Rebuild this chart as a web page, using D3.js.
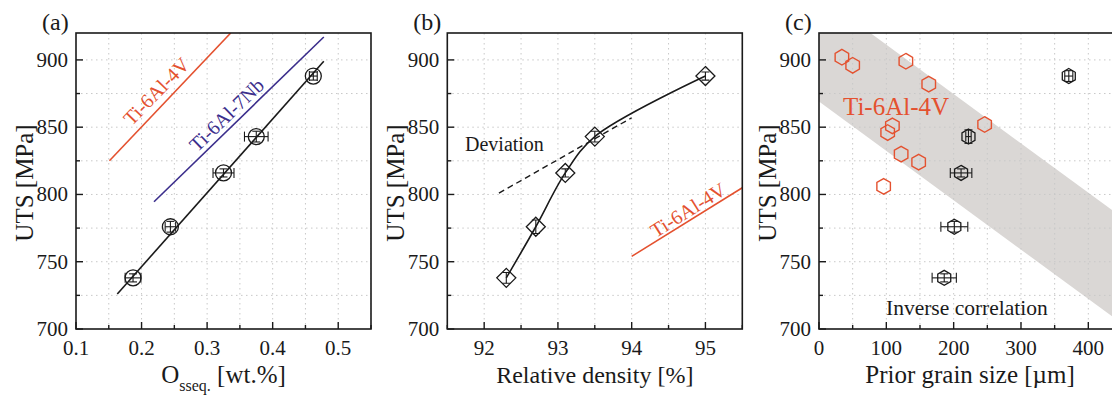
<!DOCTYPE html>
<html><head><meta charset="utf-8">
<script src="https://cdn.jsdelivr.net/npm/d3@7"></script>
<style>body{margin:0;background:#fff}svg{display:block}</style>
</head><body><svg id="c" width="1112" height="396" font-family="'Liberation Serif','Times New Roman',serif"></svg>
<script>
// ---------- data ----------
const utsValues = [738, 776, 816, 843, 888];
const utsErr = [3, 4, 3, 4, 3];
// (a) oxygen equivalent
const oxyValues = [0.187, 0.244, 0.325, 0.375, 0.462];
const oxyErr = [0.012, 0.008, 0.016, 0.018, 0.006];
const oxyFitX = [0.163, 0.478];
const oxyFitY = [726, 899];
const ti64LineX = [0.151, 0.336];
const ti64LineY = [825, 920];
const ti67LineX = [0.219, 0.478];
const ti67LineY = [794.6, 917];
const oxyTicks = [0.1, 0.2, 0.3, 0.4, 0.5];
const oxyTickLabels = ["0.1", "0.2", "0.3", "0.4", "0.5"];
// (b) relative density
const densValues = [92.3, 92.7, 93.1, 93.5, 95.0];
const densErrY = [4, 5, 3, 4, 3];
const devLineX = [92.2, 94.0];
const devLineY = [801, 857];
const densTi64X = [94.0, 95.5];
const densTi64Y = [754, 805];
const densTicks = [92, 93, 94, 95];
const densTickLabels = ["92", "93", "94", "95"];
// (c) prior grain size
const grainValues = [186, 201, 211, 222, 371];
const grainErr = [18, 20, 16, 4, 6];
const grainErrY = [3, 4, 3, 5, 4];
const litGrain = [34, 50, 129, 163, 109, 102, 246, 122, 148, 96];
const litUTS = [902, 896, 899, 882, 851, 846, 852, 830, 824, 806];
const bandX = [0, 450];
const bandUpper = [948, 783];
const bandLower = [869, 704];
const grainTicks = [0, 100, 200, 300, 400];
const grainTickLabels = ["0", "100", "200", "300", "400"];
const utsTicks = [700, 750, 800, 850, 900];
const utsTickLabels = ["700", "750", "800", "850", "900"];

// ---------- drawing ----------
const RED = "#e4512f", PURPLE = "#3b2e8c", INK = "#1a1a1a";
const svg = d3.select("#c");
const pTop = 33, pBottom = 329;

function panel(o) {
  const g = svg.append("g");
  const x = d3.scaleLinear().domain(o.xDomain).range([o.left, o.right]);
  const y = d3.scaleLinear().domain([700, 920]).range([pBottom, pTop]);
  const clipId = "clip" + o.id;
  svg.append("clipPath").attr("id", clipId).append("rect")
    .attr("x", o.left).attr("y", pTop).attr("width", o.right - o.left).attr("height", pBottom - pTop);
  const plot = g.append("g").attr("clip-path", `url(#${clipId})`);
  const back = plot.append("g");
  const xs = d3.range(o.xDomain[0], o.xDomain[1] + 1e-9, o.minorStep);
  const ys = d3.range(700, 921, 25);
  const grid = plot.append("g").attr("stroke", "#c8c8c8").attr("stroke-width", 1).attr("stroke-dasharray", "1.5,3.5");
  grid.selectAll(".gx").data(xs.slice(1)).join("line")
    .attr("x1", d => x(d)).attr("x2", d => x(d)).attr("y1", pTop).attr("y2", pBottom);
  grid.selectAll(".gy").data(ys.slice(1)).join("line")
    .attr("y1", d => y(d)).attr("y2", d => y(d)).attr("x1", o.left).attr("x2", o.right);
  const ax = g.append("g").attr("stroke", INK).attr("stroke-width", 1.4);
  ax.selectAll(".tx").data(xs).join("line")
    .attr("x1", d => x(d)).attr("x2", d => x(d)).attr("y1", pBottom)
    .attr("y2", d => pBottom - (o.majors.some(m => Math.abs(m - d) < 1e-9) ? 7 : 4));
  ax.selectAll(".ty").data(ys).join("line")
    .attr("y1", d => y(d)).attr("y2", d => y(d)).attr("x1", o.left)
    .attr("x2", d => o.left + (d % 50 === 0 ? 7 : 4));
  g.append("rect").attr("x", o.left).attr("y", pTop).attr("width", o.right - o.left).attr("height", pBottom - pTop)
    .attr("fill", "none").attr("stroke", INK).attr("stroke-width", 1.6);
  g.selectAll(".xl").data(o.majors).join("text")
    .attr("x", (d) => x(d)).attr("y", 355).attr("text-anchor", "middle")
    .attr("font-size", 21).attr("fill", INK).text((d, i) => o.majorLabels[i]);
  g.selectAll(".yl").data(utsTicks).join("text")
    .attr("x", o.left - 8).attr("y", d => y(d) + 7).attr("text-anchor", "end")
    .attr("font-size", 21).attr("fill", INK).text((d, i) => utsTickLabels[i]);
  g.append("text").attr("transform", `translate(${o.left - 43},${(pTop + pBottom) / 2 + 2}) rotate(-90)`)
    .attr("text-anchor", "middle").attr("font-size", 25).attr("fill", INK).text("UTS [MPa]");
  g.append("text").attr("x", o.left - 34).attr("y", 30).attr("font-size", 24).attr("fill", INK).text(o.tag);
  return { g, plot, back, x, y };
}

function errorBars(sel, x, y, xv, yv, xe, ye) {
  const e = sel.append("g").attr("stroke", INK).attr("stroke-width", 1.1).attr("fill", "none");
  xv.forEach((v, i) => {
    const cx = x(v), cy = y(yv[i]);
    if (xe) {
      const x0 = x(v - xe[i]), x1 = x(v + xe[i]);
      e.append("line").attr("x1", x0).attr("x2", x1).attr("y1", cy).attr("y2", cy);
      e.append("line").attr("x1", x0).attr("x2", x0).attr("y1", cy - 5).attr("y2", cy + 5);
      e.append("line").attr("x1", x1).attr("x2", x1).attr("y1", cy - 5).attr("y2", cy + 5);
    }
    if (ye) {
      const y0 = y(yv[i] - ye[i]), y1 = y(yv[i] + ye[i]);
      e.append("line").attr("x1", cx).attr("x2", cx).attr("y1", y0).attr("y2", y1);
      e.append("line").attr("x1", cx - 4).attr("x2", cx + 4).attr("y1", y0).attr("y2", y0);
      e.append("line").attr("x1", cx - 4).attr("x2", cx + 4).attr("y1", y1).attr("y2", y1);
    }
  });
}
function hexPath(r) {
  const pts = d3.range(6).map(k => { const a = Math.PI / 3 * k - Math.PI / 2; return [r * Math.cos(a), r * Math.sin(a)]; });
  return "M" + pts.map(p => p.join(",")).join("L") + "Z";
}
function diamondPath(r) { return `M0,${-r}L${r},0L0,${r}L${-r},0Z`; }
const line2 = (x, y, xs, ys) => d3.line().x(d => x(d[0])).y(d => y(d[1]))(xs.map((v, i) => [v, ys[i]]));

// ---------- panel (a) ----------
{
  const p = panel({ id: "a", left: 76, right: 371, xDomain: [0.1, 0.55], minorStep: 0.05, majors: oxyTicks, majorLabels: oxyTickLabels, tag: "(a)" });
  const { plot, x, y, g } = p;
  plot.append("path").attr("d", line2(x, y, ti64LineX, ti64LineY)).attr("stroke", RED).attr("stroke-width", 1.6).attr("fill", "none");
  plot.append("path").attr("d", line2(x, y, ti67LineX, ti67LineY)).attr("stroke", PURPLE).attr("stroke-width", 1.6).attr("fill", "none");
  plot.append("path").attr("d", line2(x, y, oxyFitX, oxyFitY)).attr("stroke", INK).attr("stroke-width", 1.6).attr("fill", "none");
  errorBars(plot, x, y, oxyValues, utsValues, oxyErr, utsErr);
  plot.selectAll(".m").data(oxyValues).join("circle").attr("cx", d => x(d)).attr("cy", (d, i) => y(utsValues[i]))
    .attr("r", 8).attr("fill", "none").attr("stroke", INK).attr("stroke-width", 1.3);
  g.append("text").attr("transform", `translate(${x(0.225)},${y(875.5)}) rotate(-46)`).attr("text-anchor", "middle")
    .attr("dominant-baseline", "middle").attr("font-size", 20).attr("fill", RED).text("Ti-6Al-4V");
  g.append("text").attr("transform", `translate(${x(0.332)},${y(858)}) rotate(-44)`).attr("text-anchor", "middle")
    .attr("dominant-baseline", "middle").attr("font-size", 20).attr("fill", PURPLE).text("Ti-6Al-7Nb");
  const t = g.append("text").attr("x", 223.5).attr("y", 383).attr("text-anchor", "middle").attr("font-size", 25).attr("fill", INK);
  t.append("tspan").text("O");
  t.append("tspan").attr("font-size", 16).attr("dy", 8).text("sseq.");
  t.append("tspan").attr("dy", -8).text(" [wt.%]");
}
// ---------- panel (b) ----------
{
  const p = panel({ id: "b", left: 447.3, right: 742.3, xDomain: [91.5, 95.5], minorStep: 0.5, majors: densTicks, majorLabels: densTickLabels, tag: "(b)" });
  const { plot, x, y, g } = p;
  plot.append("path").attr("d", line2(x, y, densTi64X, densTi64Y)).attr("stroke", RED).attr("stroke-width", 1.6).attr("fill", "none");
  plot.append("path").attr("d", line2(x, y, devLineX, devLineY)).attr("stroke", INK).attr("stroke-width", 1.4)
    .attr("stroke-dasharray", "6,4").attr("fill", "none");
  const curve = d3.line().curve(d3.curveCatmullRom.alpha(0.5)).x(d => x(d[0])).y(d => y(d[1]));
  plot.append("path").attr("d", curve(densValues.map((v, i) => [v, utsValues[i]]))).attr("stroke", INK).attr("stroke-width", 1.6).attr("fill", "none");
  errorBars(plot, x, y, densValues, utsValues, null, densErrY);
  plot.selectAll(".m").data(densValues).join("path").attr("transform", (d, i) => `translate(${x(d)},${y(utsValues[i])})`)
    .attr("d", diamondPath(9.5)).attr("fill", "none").attr("stroke", INK).attr("stroke-width", 1.3);
  g.append("text").attr("x", 465).attr("y", 151).attr("font-size", 20).attr("fill", INK).text("Deviation");
  g.append("text").attr("transform", `translate(${x(94.78)},${y(787)}) rotate(-32)`).attr("text-anchor", "middle")
    .attr("dominant-baseline", "middle").attr("font-size", 20).attr("fill", RED).text("Ti-6Al-4V");
  g.append("text").attr("x", (447.3 + 742.3) / 2).attr("y", 383).attr("text-anchor", "middle").attr("font-size", 24).attr("fill", INK).text("Relative density [%]");
}
// ---------- panel (c) ----------
{
  const left = 819, right = 819 + 450 * 0.6733;
  const p = panel({ id: "c", left, right, xDomain: [0, 450], minorStep: 50, majors: grainTicks, majorLabels: grainTickLabels, tag: "(c)" });
  const { plot, back, x, y, g } = p;
  const poly = [[bandX[0], bandUpper[0]], [bandX[1], bandUpper[1]], [bandX[1], bandLower[1]], [bandX[0], bandLower[0]]];
  back.append("path").attr("d", "M" + poly.map(d => [x(d[0]), y(d[1])].join(",")).join("L") + "Z").attr("fill", "#dad7d5");
  errorBars(plot, x, y, grainValues, utsValues, grainErr, grainErrY);
  plot.selectAll(".m").data(grainValues).join("path").attr("transform", (d, i) => `translate(${x(d)},${y(utsValues[i])})`)
    .attr("d", hexPath(7.5)).attr("fill", "none").attr("stroke", INK).attr("stroke-width", 1.3);
  plot.selectAll(".lit").data(litGrain).join("path").attr("transform", (d, i) => `translate(${x(d)},${y(litUTS[i])})`)
    .attr("d", hexPath(7.8)).attr("fill", "none").attr("stroke", RED).attr("stroke-width", 1.4);
  g.append("text").attr("x", 843).attr("y", 115).attr("font-size", 25).attr("fill", RED).text("Ti-6Al-4V");
  g.append("text").attr("x", 886).attr("y", 315).attr("font-size", 21.5).attr("fill", INK).text("Inverse correlation");
  g.append("text").attr("x", 970).attr("y", 383).attr("text-anchor", "middle").attr("font-size", 25).attr("fill", INK).text("Prior grain size [µm]");
}
</script></body></html>
